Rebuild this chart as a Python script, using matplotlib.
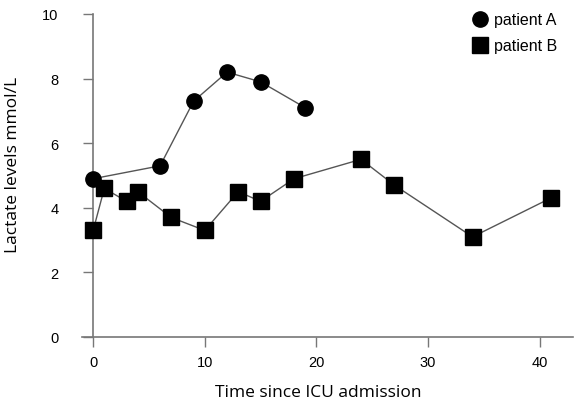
import matplotlib
matplotlib.use("Agg")
import matplotlib.pyplot as plt
from matplotlib.lines import Line2D

time_a = [0, 6, 9, 12, 15, 19]
lactate_a = [4.9, 5.3, 7.3, 8.2, 7.9, 7.1]
time_b = [0, 1, 3, 4, 7, 10, 13, 15, 18, 24, 27, 34, 41]
lactate_b = [3.3, 4.6, 4.2, 4.5, 3.7, 3.3, 4.5, 4.2, 4.9, 5.5, 4.7, 3.1, 4.3]
x_ticks = [0, 10, 20, 30, 40]
y_ticks = [0, 2, 4, 6, 8, 10]

fig = plt.figure(figsize=(5.74, 4.02), dpi=100)
ax = fig.add_axes([82/574, 1-338/402, (573-82)/574, (338-15)/402])

ax.plot(time_a, lactate_a, color='#555555', lw=1.0, marker='o', ms=11,
        mfc='black', mec='black', label='patient A', zorder=3)
ax.plot(time_b, lactate_b, color='#555555', lw=1.0, marker='s', ms=11,
        mfc='black', mec='black', label='patient B', zorder=3)

ax.set_xlim(-1, 43)
ax.set_ylim(0, 10)
ax.set_xticks(x_ticks)
ax.set_yticks(y_ticks)
ax.spines['top'].set_visible(False)
ax.spines['right'].set_visible(False)
ax.spines['left'].set_position(('data', 0))
for s in ['left', 'bottom']:
    ax.spines[s].set_color('#777777')
    ax.spines[s].set_linewidth(1.2)
ax.tick_params(axis='both', colors='#777777', labelcolor='black', length=7, width=1.0,
               labelsize=10.5)
for lab in ax.get_xticklabels() + ax.get_yticklabels():
    lab.set_family('Liberation Sans')
ax.tick_params(axis='y', pad=18)
ax.tick_params(axis='x', pad=6)

ax.set_xlabel('Time since ICU admission', fontsize=12.5, family='Open Sans')
ax.xaxis.set_label_coords((318-82)/491, -(385-338)/323)
ax.set_ylabel('Lactate levels mmol/L', fontsize=12.5, family='Open Sans')
ax.yaxis.set_label_coords(-(82-21)/491, (338-165)/323)

handles = [Line2D([], [], marker='o', ls='none', color='black', ms=11),
           Line2D([], [], marker='s', ls='none', color='black', ms=11)]
leg = ax.legend(handles, ['patient A', 'patient B'], loc='upper left',
                bbox_to_anchor=((456-82)/491, 1.05), frameon=False, handletextpad=0.3,
                labelspacing=0.7, prop={'family': 'Liberation Sans', 'size': 11.5},
                handlelength=1.2)

fig.savefig('out.png', dpi=100)
